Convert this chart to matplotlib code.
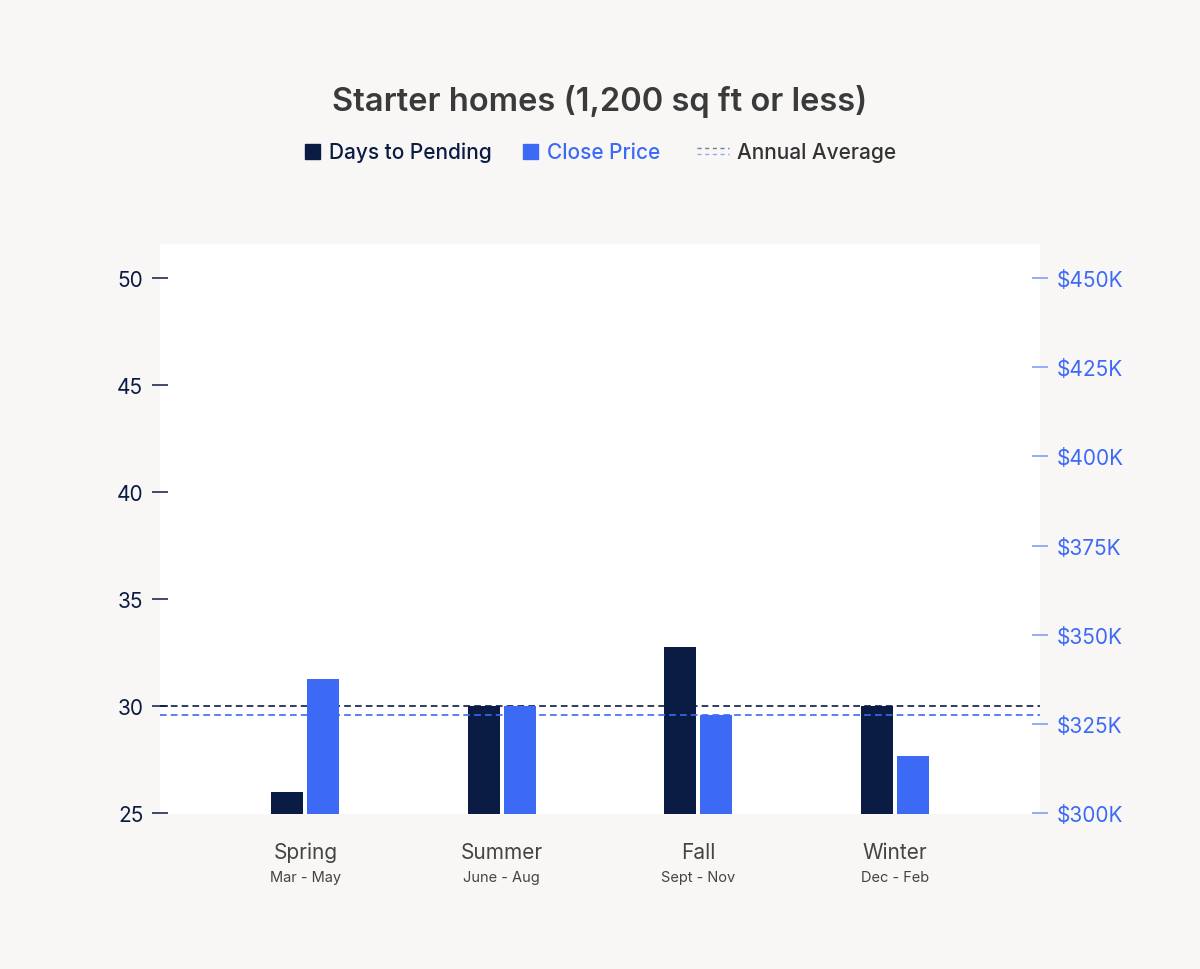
import matplotlib
matplotlib.use("Agg")
import matplotlib.pyplot as plt
from matplotlib.lines import Line2D
from matplotlib.patches import Rectangle
import numpy as np

plt.rcParams['font.family'] = ['Inter', 'DejaVu Sans']

seasons = ["Spring", "Summer", "Fall", "Winter"]
months = ["Mar - May", "June - Aug", "Sept - Nov", "Dec - Feb"]
days_to_pending = [26.0, 30.0, 32.75, 30.0]
close_price_k = [337.5, 330.0, 327.5, 316.0]
avg_days = 30.0
avg_price_k = 327.5
left_ticks = [25, 30, 35, 40, 45, 50]
right_ticks = [300, 325, 350, 375, 400, 425, 450]
legend_labels = ["Days to Pending", "Close Price", "Annual Average"]

NAVY = "#0a1c44"
BLUE = "#3d6af5"
LBLUE = "#8fa5f5"
BG = "#f8f7f5"
W, H = 1200, 970

fig = plt.figure(figsize=(12, 9.7), dpi=100, facecolor=BG)
ax = fig.add_axes([160/W, 1-815/H, 880/W, (815-245)/H])
ax.set_facecolor("white")
ax2 = ax.twinx()

x = np.arange(len(seasons))
w = 0.163
off = 0.0916

ppu = 535/25
ax.bar(x - off, days_to_pending, width=w, bottom=0, color=NAVY, zorder=3)
ax2.bar(x + off, close_price_k, width=w, bottom=0, color=BLUE, zorder=3)
ax.axhline(avg_days, color=NAVY, lw=1.2, ls=(0, (4, 2.5)), zorder=2)
ax2.axhline(avg_price_k, color=BLUE, lw=1.2, ls=(0, (4, 2.5)), zorder=2)

ax.set_ylim(25 - 1/ppu, 25 + (814-245)/ppu)
ax2.set_ylim(300 - 150/535, 300 + (814-245)*150/535)
ax.set_xlim(-0.74, 3.74)

for a in (ax, ax2):
    for s in a.spines.values():
        s.set_visible(False)

ax.set_yticks(left_ticks)
ax.set_yticklabels([str(t) for t in left_ticks])
ax.tick_params(axis='y', direction='inout', length=12, width=1.1, color=NAVY,
               labelcolor=NAVY, labelsize=15, pad=6)
ax2.set_yticks(right_ticks)
ax2.set_yticklabels([f"${t}K" for t in right_ticks])
ax2.tick_params(axis='y', direction='inout', length=12, width=1.3, color=LBLUE,
                labelcolor=BLUE, labelsize=15, pad=6)
ax.set_xticks([])

for i, (s, m) in enumerate(zip(seasons, months)):
    ax.text(i, -38/570, s, transform=ax.get_xaxis_transform(), ha='center', va='center',
            fontsize=15, color="#444444")
    ax.text(i, -63/570, m, transform=ax.get_xaxis_transform(), ha='center', va='center',
            fontsize=10.5, color="#444444")

fig.text(0.5, 1-102/H, "Starter homes (1,200 sq ft or less)", ha='center', va='center',
         fontsize=23.5, fontweight='semibold', color="#3a3a3a")

# manual legend
ly = 1 - 153/H
fig.add_artist(Rectangle((305/W, 1-160/H), 15/W, 15/H, color=NAVY, transform=fig.transFigure))
fig.text(329/W, ly, legend_labels[0], ha='left', va='center', fontsize=15,
         fontweight='medium', color=NAVY)
fig.add_artist(Rectangle((523/W, 1-160/H), 15/W, 15/H, color=BLUE, transform=fig.transFigure))
fig.text(547/W, ly, legend_labels[1], ha='left', va='center', fontsize=15,
         fontweight='medium', color=BLUE)
fig.add_artist(Line2D([697/W, 729/W], [1-149/H, 1-149/H], color=NAVY, alpha=0.55, lw=1.0,
                      ls=(0, (3, 2.5)), transform=fig.transFigure))
fig.add_artist(Line2D([697/W, 729/W], [1-155/H, 1-155/H], color=BLUE, alpha=0.55, lw=1.0,
                      ls=(0, (3, 2.5)), transform=fig.transFigure))
fig.text(737/W, ly, legend_labels[2], ha='left', va='center', fontsize=15,
         fontweight='medium', color="#333333")

fig.savefig("out.png", dpi=100, facecolor=BG)
